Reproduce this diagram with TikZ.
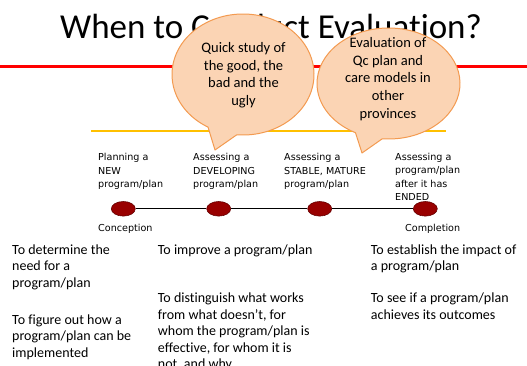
\documentclass[tikz,border=0pt]{standalone}
\usepackage{fontspec}
\usetikzlibrary{calc,shapes.geometric}
\setmainfont{Carlito}[Ligatures=CommonOff]
\newfontfamily\tlfont{DejaVu Sans}
\definecolor{rule red}{HTML}{FF0000}
\definecolor{rule gold}{HTML}{FFC000}
\definecolor{bubble fill}{HTML}{FBD4B4}
\definecolor{bubble edge}{HTML}{F39A50}
\definecolor{dot fill}{HTML}{990000}
\definecolor{dot edge}{HTML}{660000}
\begin{document}
% multi-line nodes below are placed by the baseline of their last line
\begin{tikzpicture}[x=1pt,y=1pt,
  title/.style={font=\fontsize{35}{40}\selectfont, anchor=base west, inner sep=0},
  bubble/.style={fill=bubble fill, draw=bubble edge, line width=1pt, line join=round},
  bubbletext/.style={font=\fontsize{14.5}{17.7}\selectfont, align=center, anchor=base, inner sep=0},
  stagelabel/.style={font=\tlfont\fontsize{9.6}{13.3}\selectfont, align=left, anchor=base west, inner sep=0},
  stagedot/.style={ellipse, fill=dot fill, draw=dot edge, line width=0.6pt, minimum width=24pt, minimum height=14.6pt, inner sep=0},
  purpose/.style={font=\fontsize{14}{16.6}\selectfont, align=left, anchor=base west, inner sep=0},
]
\useasboundingbox (0,0) rectangle (527,-366);

% heading and the red rule beneath it
\draw[rule red, line width=3pt] (0,-67) -- (527,-67);
\node[title] (heading) at (60,-39) {When to Conduct Evaluation?};

% gold rule above the timeline
\draw[rule gold, line width=2pt] (91,-131.5) -- (446,-131.5);

% speech bubbles
\coordinate (b1) at (243,-74.5);
\coordinate (b1tip) at (215,-150);
\draw[bubble] ($(b1)+(265:71 and 60.5)$) arc[start angle=265, end angle=600.5, x radius=71, y radius=60.5] -- (b1tip) -- cycle;
\node[bubbletext] (q1) at (243.5,-105.6) {Quick study of\\the good, the\\bad and the\\ugly};

\coordinate (b2) at (388.5,-83.5);
\coordinate (b2tip) at (362,-153);
\draw[bubble] ($(b2)+(265:71.5 and 55.5)$) arc[start angle=265, end angle=602.5, x radius=71.5, y radius=55.5] -- (b2tip) -- cycle;
\node[bubbletext] (q2) at (388,-118.3) {Evaluation of\\Qc plan and\\care models in\\other\\provinces};

% stage labels
\node[stagelabel] (s1) at (98,-187.3) {Planning a\\NEW\\program/plan};
\node[stagelabel] (s2) at (193,-187.3) {Assessing a\\DEVELOPING\\program/plan};
\node[stagelabel] (s3) at (284,-187.3) {Assessing a\\STABLE, MATURE\\program/plan};
\node[stagelabel] (s4) at (395,-200.6) {Assessing a\\program/plan\\after it has\\ENDED};

% timeline
\node[stagedot] (d1) at (123.3,-208.8) {};
\node[stagedot] (d2) at (218.7,-208.8) {};
\node[stagedot] (d3) at (319.7,-208.8) {};
\node[stagedot] (d4) at (425.3,-208.8) {};
\draw[line width=0.9pt] (d1) -- (d2) (d2) -- (d3) (d3) -- (d4);

\node[stagelabel] (start) at (98,-231.7) {Conception};
\node[stagelabel] (end) at (405,-231.7) {Completion};

% purposes of evaluation at each stage
\node[purpose] (p1a) at (12,-287.2) {To determine the\\need for a\\program/plan};
\node[purpose] (p1b) at (12,-357.2) {To figure out how a\\program/plan can be\\implemented};
\node[purpose] (p2a) at (157.7,-254) {To improve a program/plan};
\node[purpose] (p2b) at (157.7,-368.9) {To distinguish what works\\from what doesn’t, for\\whom the program/plan is\\effective, for whom it is\\not, and why};
\node[purpose] (p3a) at (370.7,-270.6) {To establish the impact of\\a program/plan};
\node[purpose] (p3b) at (370.7,-319.1) {To see if a program/plan\\achieves its outcomes};
\end{tikzpicture}
\end{document}
